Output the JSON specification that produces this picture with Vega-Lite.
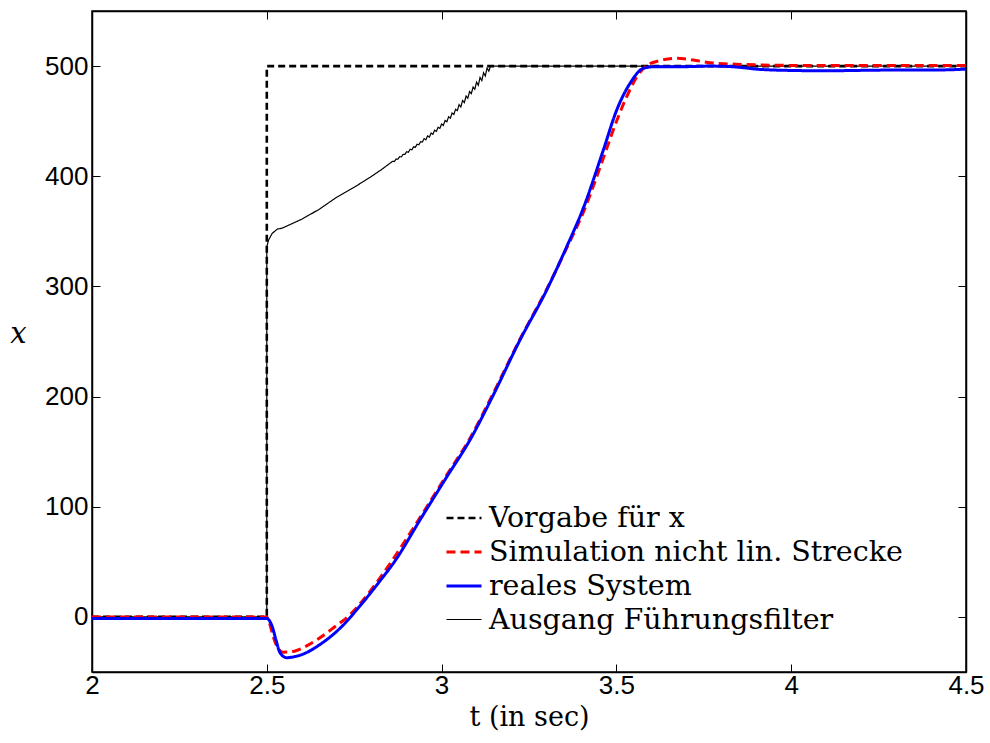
{
  "$schema": "https://vega.github.io/schema/vega-lite/v6.json",
  "autosize": "none",
  "width": 874,
  "height": 661,
  "padding": {"left": 92, "top": 11, "right": 24, "bottom": 71},
  "background": "white",
  "config": {
    "view": {"stroke": "black", "strokeWidth": 1.5},
    "axis": {
      "domainColor": "black", "domainWidth": 1.5, "tickColor": "black", "tickWidth": 1,
      "tickSize": -8, "grid": false,
      "labelFont": "Liberation Sans", "labelFontSize": 26, "labelColor": "black",
      "titleColor": "black", "titleFontWeight": "normal"
    },
    "legend": {
      "title": null, "orient": "none", "legendX": 353, "legendY": 488,
      "padding": 0, "symbolType": "stroke", "symbolSize": 1225,
      "labelFont": "DejaVu Serif", "labelFontSize": 28.5, "labelColor": "black",
      "labelOffset": 6, "rowPadding": -2.3, "labelLimit": 700
    }
  },
  "datasets": {
    "d": [
      {"s": "Vorgabe für x", "i": 1, "t": 2, "v": 0},
      {"s": "Vorgabe für x", "i": 2, "t": 2.5, "v": 0},
      {"s": "Vorgabe für x", "i": 3, "t": 2.5, "v": 500},
      {"s": "Vorgabe für x", "i": 4, "t": 4.5, "v": 500},

      {"s": "Simulation nicht lin. Strecke", "i": 1, "t": 2, "v": 0},
      {"s": "Simulation nicht lin. Strecke", "i": 2, "t": 2.5, "v": 0},
      {"s": "Simulation nicht lin. Strecke", "i": 3, "t": 2.506, "v": -4},
      {"s": "Simulation nicht lin. Strecke", "i": 4, "t": 2.5186, "v": -18},
      {"s": "Simulation nicht lin. Strecke", "i": 5, "t": 2.533, "v": -29},
      {"s": "Simulation nicht lin. Strecke", "i": 6, "t": 2.547, "v": -32},
      {"s": "Simulation nicht lin. Strecke", "i": 7, "t": 2.576, "v": -31.3},
      {"s": "Simulation nicht lin. Strecke", "i": 8, "t": 2.61, "v": -27},
      {"s": "Simulation nicht lin. Strecke", "i": 9, "t": 2.643, "v": -20.9},
      {"s": "Simulation nicht lin. Strecke", "i": 10, "t": 2.69, "v": -10},
      {"s": "Simulation nicht lin. Strecke", "i": 11, "t": 2.738, "v": 2},
      {"s": "Simulation nicht lin. Strecke", "i": 12, "t": 2.78, "v": 17},
      {"s": "Simulation nicht lin. Strecke", "i": 13, "t": 2.843, "v": 44},
      {"s": "Simulation nicht lin. Strecke", "i": 14, "t": 2.94, "v": 91},
      {"s": "Simulation nicht lin. Strecke", "i": 15, "t": 3.015, "v": 129},
      {"s": "Simulation nicht lin. Strecke", "i": 16, "t": 3.081, "v": 162},
      {"s": "Simulation nicht lin. Strecke", "i": 17, "t": 3.143, "v": 200},
      {"s": "Simulation nicht lin. Strecke", "i": 18, "t": 3.224, "v": 252},
      {"s": "Simulation nicht lin. Strecke", "i": 19, "t": 3.30, "v": 297},
      {"s": "Simulation nicht lin. Strecke", "i": 20, "t": 3.358, "v": 335},
      {"s": "Simulation nicht lin. Strecke", "i": 21, "t": 3.405, "v": 367},
      {"s": "Simulation nicht lin. Strecke", "i": 22, "t": 3.46, "v": 414},
      {"s": "Simulation nicht lin. Strecke", "i": 23, "t": 3.491, "v": 442},
      {"s": "Simulation nicht lin. Strecke", "i": 24, "t": 3.525, "v": 469},
      {"s": "Simulation nicht lin. Strecke", "i": 25, "t": 3.558, "v": 490},
      {"s": "Simulation nicht lin. Strecke", "i": 26, "t": 3.587, "v": 500.5},
      {"s": "Simulation nicht lin. Strecke", "i": 27, "t": 3.625, "v": 505},
      {"s": "Simulation nicht lin. Strecke", "i": 28, "t": 3.672, "v": 507},
      {"s": "Simulation nicht lin. Strecke", "i": 29, "t": 3.72, "v": 505.5},
      {"s": "Simulation nicht lin. Strecke", "i": 30, "t": 3.768, "v": 503},
      {"s": "Simulation nicht lin. Strecke", "i": 31, "t": 3.862, "v": 501.5},
      {"s": "Simulation nicht lin. Strecke", "i": 32, "t": 3.95, "v": 500.8},
      {"s": "Simulation nicht lin. Strecke", "i": 33, "t": 4.05, "v": 500.5},
      {"s": "Simulation nicht lin. Strecke", "i": 34, "t": 4.5, "v": 500.5},

      {"s": "reales System", "i": 1, "t": 2, "v": -1.5},
      {"s": "reales System", "i": 2, "t": 2.5, "v": -1.5},
      {"s": "reales System", "i": 3, "t": 2.5149, "v": -8.2},
      {"s": "reales System", "i": 4, "t": 2.5263, "v": -20.9},
      {"s": "reales System", "i": 5, "t": 2.5378, "v": -32.5},
      {"s": "reales System", "i": 6, "t": 2.5569, "v": -37},
      {"s": "reales System", "i": 7, "t": 2.5807, "v": -36},
      {"s": "reales System", "i": 8, "t": 2.6141, "v": -32.3},
      {"s": "reales System", "i": 9, "t": 2.6522, "v": -25},
      {"s": "reales System", "i": 10, "t": 2.7094, "v": -10.3},
      {"s": "reales System", "i": 11, "t": 2.7666, "v": 10},
      {"s": "reales System", "i": 12, "t": 2.8238, "v": 32.7},
      {"s": "reales System", "i": 13, "t": 2.8667, "v": 50.8},
      {"s": "reales System", "i": 14, "t": 2.9382, "v": 88},
      {"s": "reales System", "i": 15, "t": 3.0146, "v": 127},
      {"s": "reales System", "i": 16, "t": 3.0812, "v": 160.6},
      {"s": "reales System", "i": 17, "t": 3.1433, "v": 198.5},
      {"s": "reales System", "i": 18, "t": 3.2243, "v": 251.4},
      {"s": "reales System", "i": 19, "t": 3.3006, "v": 296.7},
      {"s": "reales System", "i": 20, "t": 3.3578, "v": 336},
      {"s": "reales System", "i": 21, "t": 3.4053, "v": 371},
      {"s": "reales System", "i": 22, "t": 3.4626, "v": 423.8},
      {"s": "reales System", "i": 23, "t": 3.5009, "v": 460.1},
      {"s": "reales System", "i": 24, "t": 3.5389, "v": 484.3},
      {"s": "reales System", "i": 25, "t": 3.577, "v": 497.9},
      {"s": "reales System", "i": 26, "t": 3.6104, "v": 499.5},
      {"s": "reales System", "i": 27, "t": 3.6819, "v": 499.4},
      {"s": "reales System", "i": 28, "t": 3.7677, "v": 500},
      {"s": "reales System", "i": 29, "t": 3.8335, "v": 499.4},
      {"s": "reales System", "i": 30, "t": 3.9108, "v": 497},
      {"s": "reales System", "i": 31, "t": 4.025, "v": 495.9},
      {"s": "reales System", "i": 32, "t": 4.1016, "v": 495.7},
      {"s": "reales System", "i": 33, "t": 4.197, "v": 496.1},
      {"s": "reales System", "i": 34, "t": 4.2912, "v": 496.4},
      {"s": "reales System", "i": 35, "t": 4.397, "v": 496.4},
      {"s": "reales System", "i": 36, "t": 4.4828, "v": 497},
      {"s": "reales System", "i": 37, "t": 4.5, "v": 497.3},

      {"s": "Ausgang Führungsfilter", "i": 1, "t": 2, "v": 0},
      {"s": "Ausgang Führungsfilter", "i": 2, "t": 2.5, "v": 0},
      {"s": "Ausgang Führungsfilter", "i": 3, "t": 2.5, "v": 336},
      {"s": "Ausgang Führungsfilter", "i": 4, "t": 2.505, "v": 342},
      {"s": "Ausgang Führungsfilter", "i": 5, "t": 2.515, "v": 348},
      {"s": "Ausgang Führungsfilter", "i": 6, "t": 2.53, "v": 352},
      {"s": "Ausgang Führungsfilter", "i": 7, "t": 2.545, "v": 353},
      {"s": "Ausgang Führungsfilter", "i": 8, "t": 2.6, "v": 361},
      {"s": "Ausgang Führungsfilter", "i": 9, "t": 2.65, "v": 370},
      {"s": "Ausgang Führungsfilter", "i": 10, "t": 2.7, "v": 381},
      {"s": "Ausgang Führungsfilter", "i": 11, "t": 2.75, "v": 390},
      {"s": "Ausgang Führungsfilter", "i": 12, "t": 2.8, "v": 400},
      {"s": "Ausgang Führungsfilter", "i": 13, "t": 2.83, "v": 406.5},
      {"s": "Ausgang Führungsfilter", "i": 14, "t": 2.86, "v": 413.6},
      {"s": "Ausgang Führungsfilter", "i": 15, "t": 2.865, "v": 413.4},
      {"s": "Ausgang Führungsfilter", "i": 16, "t": 2.87, "v": 415.7},
      {"s": "Ausgang Führungsfilter", "i": 17, "t": 2.875, "v": 415.5},
      {"s": "Ausgang Führungsfilter", "i": 18, "t": 2.88, "v": 417.8},
      {"s": "Ausgang Führungsfilter", "i": 19, "t": 2.885, "v": 417.6},
      {"s": "Ausgang Führungsfilter", "i": 20, "t": 2.89, "v": 419.9},
      {"s": "Ausgang Führungsfilter", "i": 21, "t": 2.895, "v": 419.8},
      {"s": "Ausgang Führungsfilter", "i": 22, "t": 2.9, "v": 422.3},
      {"s": "Ausgang Führungsfilter", "i": 23, "t": 2.905, "v": 421.8},
      {"s": "Ausgang Führungsfilter", "i": 24, "t": 2.91, "v": 424.5},
      {"s": "Ausgang Führungsfilter", "i": 25, "t": 2.915, "v": 424.0},
      {"s": "Ausgang Führungsfilter", "i": 26, "t": 2.92, "v": 426.8},
      {"s": "Ausgang Führungsfilter", "i": 27, "t": 2.925, "v": 426.3},
      {"s": "Ausgang Führungsfilter", "i": 28, "t": 2.93, "v": 429.1},
      {"s": "Ausgang Führungsfilter", "i": 29, "t": 2.935, "v": 428.6},
      {"s": "Ausgang Führungsfilter", "i": 30, "t": 2.94, "v": 431.4},
      {"s": "Ausgang Führungsfilter", "i": 31, "t": 2.945, "v": 431.0},
      {"s": "Ausgang Führungsfilter", "i": 32, "t": 2.95, "v": 434.2},
      {"s": "Ausgang Führungsfilter", "i": 33, "t": 2.955, "v": 433.0},
      {"s": "Ausgang Führungsfilter", "i": 34, "t": 2.96, "v": 436.7},
      {"s": "Ausgang Führungsfilter", "i": 35, "t": 2.965, "v": 435.5},
      {"s": "Ausgang Führungsfilter", "i": 36, "t": 2.97, "v": 439.2},
      {"s": "Ausgang Führungsfilter", "i": 37, "t": 2.975, "v": 438.1},
      {"s": "Ausgang Führungsfilter", "i": 38, "t": 2.98, "v": 441.8},
      {"s": "Ausgang Führungsfilter", "i": 39, "t": 2.985, "v": 440.7},
      {"s": "Ausgang Führungsfilter", "i": 40, "t": 2.99, "v": 444.5},
      {"s": "Ausgang Führungsfilter", "i": 41, "t": 2.995, "v": 443.4},
      {"s": "Ausgang Führungsfilter", "i": 42, "t": 3.0, "v": 447.5},
      {"s": "Ausgang Führungsfilter", "i": 43, "t": 3.005, "v": 446.1},
      {"s": "Ausgang Führungsfilter", "i": 44, "t": 3.01, "v": 450.7},
      {"s": "Ausgang Führungsfilter", "i": 45, "t": 3.015, "v": 449.4},
      {"s": "Ausgang Führungsfilter", "i": 46, "t": 3.02, "v": 454.0},
      {"s": "Ausgang Führungsfilter", "i": 47, "t": 3.025, "v": 452.7},
      {"s": "Ausgang Führungsfilter", "i": 48, "t": 3.03, "v": 457.4},
      {"s": "Ausgang Führungsfilter", "i": 49, "t": 3.035, "v": 456.1},
      {"s": "Ausgang Führungsfilter", "i": 50, "t": 3.04, "v": 460.8},
      {"s": "Ausgang Führungsfilter", "i": 51, "t": 3.045, "v": 459.6},
      {"s": "Ausgang Führungsfilter", "i": 52, "t": 3.05, "v": 465.0},
      {"s": "Ausgang Führungsfilter", "i": 53, "t": 3.055, "v": 462.9},
      {"s": "Ausgang Führungsfilter", "i": 54, "t": 3.06, "v": 468.8},
      {"s": "Ausgang Führungsfilter", "i": 55, "t": 3.065, "v": 466.8},
      {"s": "Ausgang Führungsfilter", "i": 56, "t": 3.07, "v": 472.8},
      {"s": "Ausgang Führungsfilter", "i": 57, "t": 3.075, "v": 470.8},
      {"s": "Ausgang Führungsfilter", "i": 58, "t": 3.08, "v": 476.9},
      {"s": "Ausgang Führungsfilter", "i": 59, "t": 3.085, "v": 474.9},
      {"s": "Ausgang Führungsfilter", "i": 60, "t": 3.09, "v": 480.9},
      {"s": "Ausgang Führungsfilter", "i": 61, "t": 3.095, "v": 479.0},
      {"s": "Ausgang Führungsfilter", "i": 62, "t": 3.1, "v": 485.5},
      {"s": "Ausgang Führungsfilter", "i": 63, "t": 3.105, "v": 482.6},
      {"s": "Ausgang Führungsfilter", "i": 64, "t": 3.11, "v": 489.7},
      {"s": "Ausgang Führungsfilter", "i": 65, "t": 3.115, "v": 486.8},
      {"s": "Ausgang Führungsfilter", "i": 66, "t": 3.12, "v": 493.9},
      {"s": "Ausgang Führungsfilter", "i": 67, "t": 3.125, "v": 491.0},
      {"s": "Ausgang Führungsfilter", "i": 68, "t": 3.13, "v": 498.2},
      {"s": "Ausgang Führungsfilter", "i": 69, "t": 3.135, "v": 495.4},
      {"s": "Ausgang Führungsfilter", "i": 70, "t": 3.14, "v": 500},
      {"s": "Ausgang Führungsfilter", "i": 71, "t": 4.5, "v": 500}
    ]
  },
  "data": {"name": "d"},
  "layer": [
    {
      "encoding": {
        "x": {
          "field": "t", "type": "quantitative",
          "scale": {"domain": [2, 4.5], "nice": false, "zero": false},
          "axis": {
            "orient": "bottom", "values": [2, 2.5, 3, 3.5, 4, 4.5], "format": "~g",
            "labelPadding": 8, "labelFlush": false,
            "title": "t (in sec)", "titleFont": "DejaVu Serif", "titleFontSize": 27,
            "titlePadding": 6
          }
        },
        "y": {
          "field": "v", "type": "quantitative",
          "scale": {"domain": [-50, 550], "nice": false, "zero": false},
          "axis": {
            "orient": "left", "values": [0, 100, 200, 300, 400, 500], "format": "d",
            "labelPadding": 12,
            "title": "x", "titleFont": "DejaVu Serif", "titleFontStyle": "italic",
            "titleFontSize": 29, "titleAngle": 0, "titleAlign": "center",
            "titleBaseline": "middle", "titleX": -74, "titleY": 322
          }
        },
        "order": {"field": "i", "type": "quantitative"},
        "color": {
          "field": "s", "type": "nominal",
          "scale": {
            "domain": ["Vorgabe für x", "Simulation nicht lin. Strecke", "reales System", "Ausgang Führungsfilter"],
            "range": ["#000000", "#ff0000", "#0000ff", "#000000"]
          }
        },
        "strokeDash": {
          "field": "s", "type": "nominal",
          "scale": {
            "domain": ["Vorgabe für x", "Simulation nicht lin. Strecke", "reales System", "Ausgang Führungsfilter"],
            "range": [[7, 4], [9, 5], [1, 0], [1, 0]]
          }
        },
        "strokeWidth": {
          "field": "s", "type": "nominal",
          "scale": {
            "type": "ordinal",
            "domain": ["Vorgabe für x", "Simulation nicht lin. Strecke", "reales System", "Ausgang Führungsfilter"],
            "range": [2.6, 3, 3, 1.2]
          }
        }
      },
      "layer": [
        {
          "transform": [{"filter": "datum.s === 'Vorgabe für x' || datum.s === 'Ausgang Führungsfilter'"}],
          "mark": {"type": "line", "clip": true, "strokeCap": "butt", "strokeJoin": "miter"}
        },
        {
          "transform": [{"filter": "datum.s === 'Simulation nicht lin. Strecke'"}],
          "mark": {"type": "line", "clip": true, "interpolate": "monotone", "strokeCap": "butt"}
        },
        {
          "transform": [{"filter": "datum.s === 'reales System'"}],
          "mark": {"type": "line", "clip": true, "interpolate": "monotone", "strokeCap": "butt"}
        }
      ]
    },
    {
      "mark": {"type": "line", "opacity": 0},
      "encoding": {
        "x": {
          "field": "t", "type": "quantitative",
          "axis": {"orient": "top", "values": [2, 2.5, 3, 3.5, 4, 4.5], "labels": false, "title": null}
        },
        "y": {
          "field": "v", "type": "quantitative",
          "axis": {"orient": "right", "values": [0, 100, 200, 300, 400, 500], "labels": false, "title": null}
        },
        "detail": {"field": "s"}
      }
    }
  ],
  "resolve": {"axis": {"x": "independent", "y": "independent"}}
}
